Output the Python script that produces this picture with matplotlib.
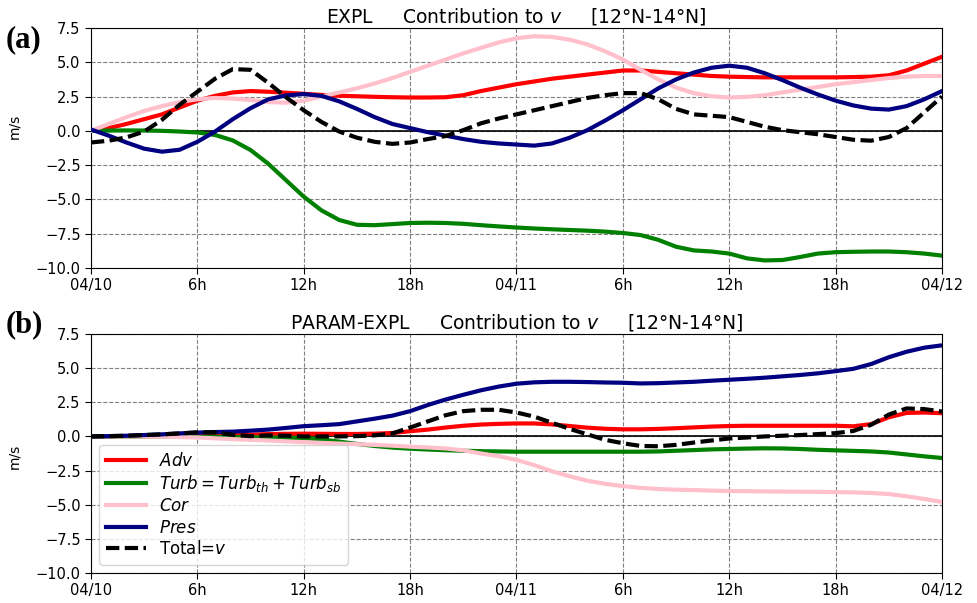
import numpy as np
import matplotlib
matplotlib.use('Agg')
import matplotlib.pyplot as plt

# time axis (hours since 04/10 00h)
hours = list(range(49))
xtick_pos = [0, 6, 12, 18, 24, 30, 36, 42, 48]
xtick_lab = ['04/10', '6h', '12h', '18h', '04/11', '6h', '12h', '18h', '04/12']

# panel (a) EXPL
adv_a = [0.0, 0.2, 0.5, 0.85, 1.2, 1.7, 2.2, 2.55, 2.8, 2.9, 2.85, 2.78, 2.7, 2.62, 2.56, 2.52, 2.48,
         2.45, 2.43, 2.43, 2.45, 2.6, 2.9, 3.15, 3.4, 3.6, 3.8, 3.95, 4.1, 4.25, 4.4, 4.4, 4.3, 4.2,
         4.1, 4.0, 3.95, 3.92, 3.9, 3.9, 3.9, 3.9, 3.9, 3.92, 3.95, 4.05, 4.4, 4.9, 5.4]
turb_a = [0.0, 0.02, 0.03, 0.02, 0.0, -0.05, -0.12, -0.3, -0.7, -1.4, -2.4, -3.6, -4.8, -5.8, -6.5,
          -6.85, -6.88, -6.8, -6.72, -6.7, -6.72, -6.78, -6.88, -6.97, -7.05, -7.12, -7.18, -7.23,
          -7.28, -7.35, -7.45, -7.6, -7.95, -8.45, -8.72, -8.8, -8.95, -9.3, -9.45, -9.42, -9.2,
          -8.95, -8.85, -8.82, -8.8, -8.8, -8.85, -8.95, -9.1]
cor_a = [0.0, 0.5, 1.0, 1.45, 1.8, 2.1, 2.3, 2.4, 2.35, 2.25, 2.1, 2.05, 2.2, 2.5, 2.8, 3.1, 3.45,
         3.85, 4.3, 4.75, 5.2, 5.65, 6.05, 6.45, 6.75, 6.9, 6.85, 6.65, 6.3, 5.8, 5.2, 4.45, 3.75,
         3.15, 2.75, 2.52, 2.43, 2.48, 2.6, 2.8, 3.0, 3.2, 3.4, 3.55, 3.7, 3.85, 3.95, 4.0, 4.0]
pres_a = [0.1, -0.35, -0.85, -1.3, -1.52, -1.38, -0.8, -0.05, 0.85, 1.65, 2.3, 2.58, 2.68, 2.55,
          2.15, 1.6, 1.0, 0.5, 0.2, -0.1, -0.35, -0.6, -0.8, -0.92, -1.0, -1.08, -0.92, -0.5, 0.05,
          0.75, 1.5, 2.3, 3.1, 3.75, 4.25, 4.6, 4.75, 4.6, 4.2, 3.7, 3.15, 2.65, 2.2, 1.85, 1.62,
          1.55, 1.8, 2.3, 2.9]
tot_a = [-0.85, -0.72, -0.48, -0.05, 0.8, 1.9, 2.85, 3.8, 4.5, 4.45, 3.5, 2.45, 1.5, 0.65, -0.05,
         -0.5, -0.8, -0.95, -0.85, -0.6, -0.38, 0.05, 0.55, 0.9, 1.2, 1.5, 1.8, 2.1, 2.4, 2.6, 2.75,
         2.75, 2.3, 1.6, 1.2, 1.1, 1.0, 0.65, 0.3, 0.05, -0.1, -0.25, -0.45, -0.65, -0.72, -0.45,
         0.2, 1.35, 2.5]

# panel (b) PARAM-EXPL
adv_b = [0.0, 0.0, 0.02, 0.03, 0.05, 0.07, 0.1, 0.1, 0.1, 0.13, 0.17, 0.19, 0.2, 0.19, 0.18, 0.18,
         0.2, 0.25, 0.38, 0.5, 0.65, 0.78, 0.87, 0.92, 0.95, 0.95, 0.88, 0.76, 0.64, 0.56, 0.52,
         0.52, 0.55, 0.6, 0.66, 0.72, 0.76, 0.78, 0.78, 0.78, 0.78, 0.78, 0.78, 0.74, 0.9, 1.4,
         1.72, 1.75, 1.7]
turb_b = [0.0, 0.0, 0.0, 0.0, 0.0, -0.01, -0.02, -0.03, -0.05, -0.06, -0.08, -0.1, -0.12, -0.22,
          -0.38, -0.55, -0.7, -0.82, -0.9, -0.96, -1.01, -1.05, -1.08, -1.1, -1.12, -1.12, -1.12,
          -1.12, -1.12, -1.12, -1.12, -1.12, -1.1, -1.05, -1.0, -0.95, -0.92, -0.89, -0.87, -0.88,
          -0.92, -0.98, -1.02, -1.06, -1.1, -1.18, -1.32, -1.46, -1.58]
cor_b = [0.0, 0.0, 0.0, -0.01, -0.02, -0.05, -0.08, -0.14, -0.2, -0.25, -0.3, -0.36, -0.42, -0.47,
         -0.52, -0.57, -0.62, -0.68, -0.75, -0.81, -0.88, -1.02, -1.25, -1.45, -1.72, -2.1, -2.55,
         -2.92, -3.25, -3.47, -3.64, -3.77, -3.85, -3.9, -3.93, -3.97, -4.0, -4.01, -4.03, -4.04,
         -4.05, -4.06, -4.08, -4.1, -4.14, -4.22, -4.38, -4.58, -4.8]
pres_b = [0.0, 0.02, 0.05, 0.1, 0.15, 0.22, 0.28, 0.32, 0.35, 0.42, 0.5, 0.62, 0.75, 0.82, 0.9, 1.1,
          1.3, 1.52, 1.85, 2.3, 2.7, 3.05, 3.38, 3.65, 3.86, 3.96, 4.0, 4.0, 3.98, 3.95, 3.93, 3.88,
          3.9, 3.95, 4.0, 4.08, 4.15, 4.22, 4.3, 4.4, 4.5, 4.62, 4.78, 4.95, 5.3, 5.8, 6.2, 6.5, 6.67]
tot_b = [0.0, 0.02, 0.05, 0.1, 0.15, 0.22, 0.3, 0.3, 0.12, 0.02, 0.08, 0.05, 0.0, 0.0, 0.0, 0.02,
         0.08, 0.22, 0.65, 1.1, 1.55, 1.85, 1.95, 1.95, 1.75, 1.45, 1.0, 0.55, 0.15, -0.25, -0.5,
         -0.7, -0.72, -0.62, -0.45, -0.3, -0.15, -0.08, 0.0, 0.05, 0.1, 0.17, 0.24, 0.4, 0.85, 1.6,
         2.05, 2.0, 1.82]

labels = ['$Adv$', '$Turb = Turb_{th} + Turb_{sb}$', '$Cor$', '$Pres$', 'Total=$v$']
colors = ['red', 'green', 'pink', 'navy', 'black']
yticks = [-10.0, -7.5, -5.0, -2.5, 0.0, 2.5, 5.0, 7.5]


def draw_panel(ax, series, title, ylab_y):
    for i, (vals, lab, col) in enumerate(zip(series, labels, colors)):
        if i == 4:
            ax.plot(hours, vals, color=col, lw=3, ls='--', dashes=(3.2, 1.3), label=lab, zorder=4)
        else:
            ax.plot(hours, vals, color=col, lw=3, label=lab, zorder=3)
    ax.axhline(0, color='k', lw=1.2, zorder=2)
    ax.set_xlim(0, 48)
    ax.set_ylim(-10, 7.5)
    ax.set_yticks(yticks)
    # unicode minus like the default formatter
    ax.set_yticklabels([('%.1f' % v).replace('-', '\u2212') for v in yticks])
    ax.set_xticks(xtick_pos)
    ax.set_xticklabels(xtick_lab)
    ax.tick_params(labelsize=10.5, length=4)
    ax.grid(True, color='gray', ls='--', lw=0.8)
    ax.set_title(title, fontsize=13.5, pad=4)
    ax.set_ylabel('m/s', fontsize=10)
    ax.yaxis.set_label_coords(-0.082, ylab_y)


fig = plt.figure(figsize=(9.77, 6.03), dpi=100)
ax1 = fig.add_axes([0.0931, 0.5556, 0.8711, 0.398])
ax2 = fig.add_axes([0.0931, 0.0498, 0.8711, 0.3963])

draw_panel(ax1, [adv_a, turb_a, cor_a, pres_a, tot_a],
           'EXPL     Contribution to $v$     [12°N-14°N]', 0.59)
draw_panel(ax2, [adv_b, turb_b, cor_b, pres_b, tot_b],
           'PARAM-EXPL     Contribution to $v$     [12°N-14°N]', 0.49)

ax2.legend(loc='lower left', fontsize=12, handlelength=2.4, labelspacing=0.2,
           borderaxespad=0.5, framealpha=0.8)

fig.text(0.006, 1 - 47 / 603, '(a)', fontsize=22, fontweight='bold',
         family='Liberation Serif', va='baseline')
fig.text(0.006, 1 - 332 / 603, '(b)', fontsize=22, fontweight='bold',
         family='Liberation Serif', va='baseline')

fig.savefig('out.png', dpi=100)
